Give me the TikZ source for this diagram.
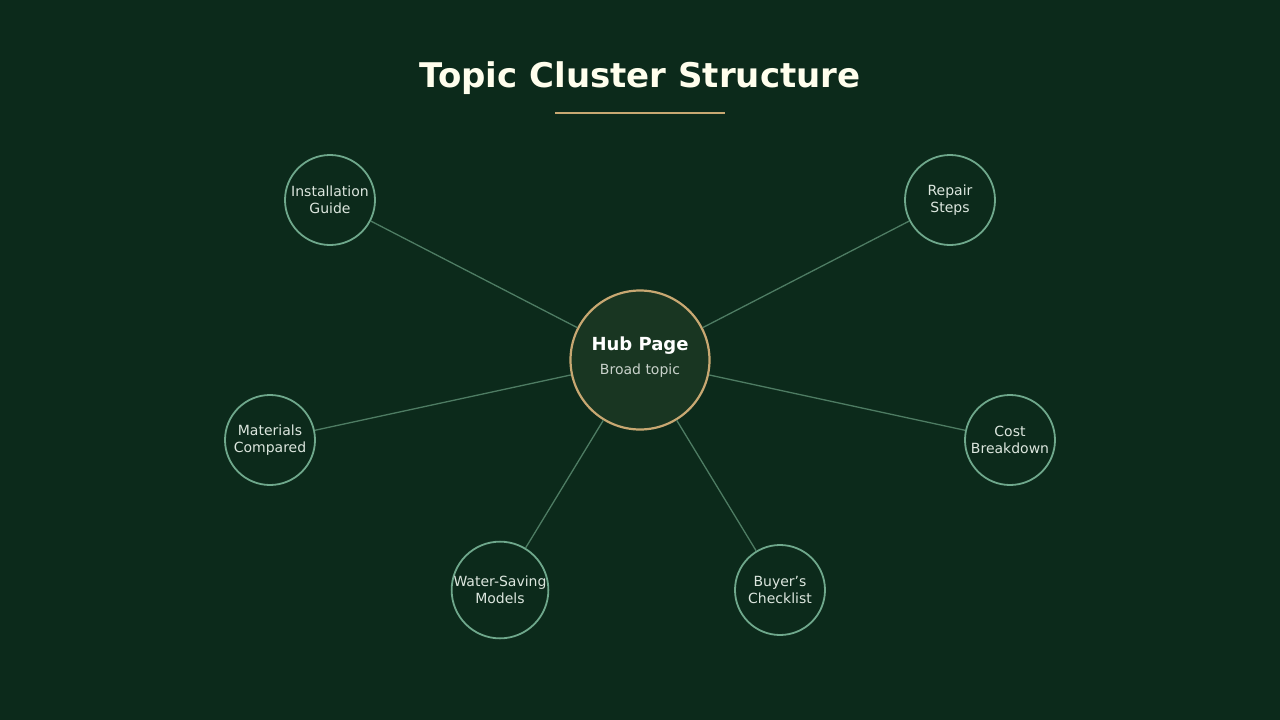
\documentclass[tikz,border=0pt]{standalone}
\usepackage{fontspec}
\setmainfont{DejaVu Sans}
\begin{document}
\begin{tikzpicture}[x=1pt,y=-1pt,
  sat/.style={circle,draw=satc,line width=1.8pt,minimum size=90pt,inner sep=0pt,align=center,text=txt,font=\fontsize{14}{16.5}\selectfont},
  link/.style={draw=linkc,line width=1.3pt}]
\definecolor{bg}{HTML}{0C2A1B}
\definecolor{satc}{HTML}{6FA88C}
\definecolor{linkc}{HTML}{4E7C63}
\definecolor{gold}{HTML}{C8A872}
\definecolor{hubf}{HTML}{193622}
\definecolor{txt}{HTML}{DCE6DE}
\fill[bg] (0,0) rectangle (1280,720);
\useasboundingbox (0,0) rectangle (1280,720);
\node[text=white!93!yellow,font=\bfseries\fontsize{34}{40}\selectfont] (title) at (640,78) {Topic Cluster Structure};
\coordinate (u1) at (555,113); \coordinate (u2) at (725,113);
\draw[gold,line width=1.5pt] (u1) -- (u2);
\node[circle,draw=gold,fill=hubf,line width=2.2pt,minimum size=139pt,inner sep=0pt] (hub) at (640,360) {};
\node[text=white,font=\bfseries\fontsize{18}{21}\selectfont] (ht) at (640,346) {Hub Page};
\node[text=txt!80!gray,font=\fontsize{14}{16}\selectfont] (hs) at (640,371) {Broad topic};
\node[sat] (a) at (330,200) {Installation\\Guide};
\node[sat] (b) at (950,200) {Repair\\Steps};
\node[sat] (c) at (270,440) {Materials\\Compared};
\node[sat] (d) at (1010,440) {Cost\\Breakdown};
\node[sat] (e) at (500,590) {Water-Saving\\Models};
\node[sat] (f) at (780,590) {Buyer's\\Checklist};
\foreach \s in {a,b,c,d,e,f} \draw[link] (hub) -- (\s);
\end{tikzpicture}
\end{document}
